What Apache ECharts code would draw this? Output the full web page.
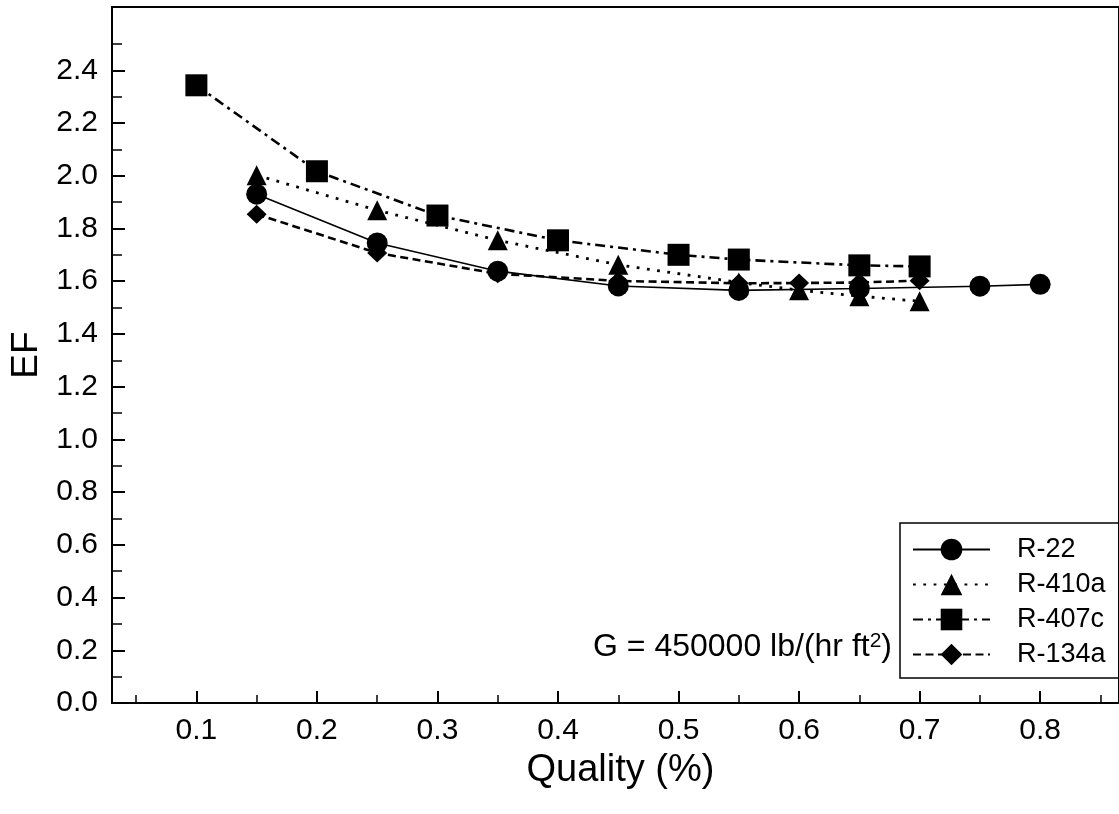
<!DOCTYPE html>
<html>
<head>
<meta charset="utf-8">
<script src="https://cdn.jsdelivr.net/npm/echarts@6/dist/echarts.min.js"></script>
<style>
html,body{margin:0;padding:0;background:#fff;}
#chart{width:1119px;height:814px;}
</style>
</head>
<body>
<div id="chart"></div>
<script>
// ---- data ----
const seriesNames = ['R-22', 'R-410a', 'R-407c', 'R-134a'];
const r22X = [0.15, 0.25, 0.35, 0.45, 0.55, 0.65, 0.75, 0.80];
const r22Y = [1.930, 1.745, 1.638, 1.582, 1.565, 1.572, 1.581, 1.588];
const r410aX = [0.15, 0.25, 0.35, 0.45, 0.55, 0.60, 0.65, 0.70];
const r410aY = [2.002, 1.869, 1.755, 1.662, 1.595, 1.566, 1.543, 1.524];
const r407cX = [0.10, 0.20, 0.30, 0.40, 0.50, 0.55, 0.65, 0.70];
const r407cY = [2.343, 2.017, 1.849, 1.755, 1.700, 1.682, 1.660, 1.656];
const r134aX = [0.15, 0.25, 0.35, 0.45, 0.55, 0.60, 0.65, 0.70];
const r134aY = [1.854, 1.707, 1.628, 1.601, 1.592, 1.593, 1.595, 1.602];
const xMajorTicks = [0.1, 0.2, 0.3, 0.4, 0.5, 0.6, 0.7, 0.8];
const xMinorTicks = [0.05, 0.15, 0.25, 0.35, 0.45, 0.55, 0.65, 0.75, 0.85];
const yMajorTicks = [0.0, 0.2, 0.4, 0.6, 0.8, 1.0, 1.2, 1.4, 1.6, 1.8, 2.0, 2.2, 2.4];
const yMinorTicks = [0.1, 0.3, 0.5, 0.7, 0.9, 1.1, 1.3, 1.5, 1.7, 1.9, 2.1, 2.3, 2.5];
const annotation = 'G = 450000 lb/(hr ft';
const xTitle = 'Quality (%)';
const yTitle = 'EF';

const pairs = (xs, ys) => xs.map((x, i) => [x, ys[i]]);
const FONT = 'Liberation Sans, Arial, sans-serif';
const X_MIN = 0.03, X_MAX = 0.8654, Y_MIN = 0, Y_MAX = 2.64;

const chart = echarts.init(document.getElementById('chart'), null, {renderer: 'canvas'});

const baseX = {type: 'value', min: X_MIN, max: X_MAX, position: 'bottom', splitLine: {show: false}};
const baseY = {type: 'value', min: Y_MIN, max: Y_MAX, position: 'left', splitLine: {show: false}};

const option = {
  animation: false,
  backgroundColor: '#fff',
  textStyle: {fontFamily: FONT},
  grid: {left: 112, top: 7, right: -3, bottom: 111, show: true, borderColor: '#000', borderWidth: 2, backgroundColor: 'transparent'},
  xAxis: [
    Object.assign({}, baseX, {
      axisLine: {lineStyle: {color: '#000', width: 2}},
      axisTick: {inside: true, length: 12, lineStyle: {color: '#000', width: 2}, customValues: xMajorTicks},
      axisLabel: {customValues: xMajorTicks, formatter: v => v.toFixed(1), fontSize: 30, color: '#000', margin: 13, fontFamily: FONT},
      name: xTitle, nameLocation: 'middle', nameGap: 49,
      nameTextStyle: {fontSize: 38, color: '#000', fontFamily: FONT, padding: [0, 0, 0, 10]}
    }),
    Object.assign({}, baseX, {
      axisLine: {show: false},
      axisTick: {inside: true, length: 8, lineStyle: {color: '#000', width: 1.5}, customValues: xMinorTicks},
      axisLabel: {show: false}
    })
  ],
  yAxis: [
    Object.assign({}, baseY, {
      axisLine: {show: true, lineStyle: {color: '#000', width: 2}},
      axisTick: {show: true, inside: true, length: 13, lineStyle: {color: '#000', width: 2}, customValues: yMajorTicks},
      axisLabel: {customValues: yMajorTicks, formatter: v => v.toFixed(1), fontSize: 30, color: '#000', margin: 14, fontFamily: FONT},
      name: yTitle, nameLocation: 'middle', nameGap: 66, nameRotate: 90,
      nameTextStyle: {fontSize: 37, color: '#000', fontFamily: FONT}
    }),
    Object.assign({}, baseY, {
      axisLine: {show: false},
      axisTick: {show: true, inside: true, length: 10, lineStyle: {color: '#000', width: 1.5}, customValues: yMinorTicks},
      axisLabel: {show: false}
    })
  ],
  legend: {
    orient: 'vertical', left: 900, top: 523,
    itemWidth: 77, itemHeight: 27, itemGap: 8,
    padding: [13, 40, 10, 12],
    borderColor: '#000', borderWidth: 1.5,
    textStyle: {fontSize: 27, color: '#000', fontFamily: FONT, padding: [0, 0, 0, 22]},
    data: seriesNames
  },
  graphic: [{
    type: 'text',
    style: {
      text: '{a|' + annotation + '}{s|2}{a|)}',
      rich: {
        a: {fontSize: 32, fontFamily: FONT, fill: '#000', color: '#000'},
        s: {fontSize: 21, fontFamily: FONT, fill: '#000', color: '#000', verticalAlign: 'top', lineHeight: 21, padding: [0, 0, 12, 0]}
      },
      x: 892, y: 663, align: 'right', verticalAlign: 'bottom'
    }
  }],
  series: [
    {
      name: seriesNames[0], type: 'line', data: pairs(r22X, r22Y),
      symbol: 'circle', symbolSize: 21,
      lineStyle: {color: '#000', width: 1.6, type: 'solid'},
      itemStyle: {color: '#000'}
    },
    {
      name: seriesNames[1], type: 'line', data: pairs(r410aX, r410aY),
      symbol: 'triangle', symbolSize: 20,
      lineStyle: {color: '#000', width: 2.8, type: [2.8, 7.5]},
      itemStyle: {color: '#000'}
    },
    {
      name: seriesNames[2], type: 'line', data: pairs(r407cX, r407cY),
      symbol: 'rect', symbolSize: 22,
      lineStyle: {color: '#000', width: 2.6, type: [10, 5, 3, 5]},
      itemStyle: {color: '#000'}
    },
    {
      name: seriesNames[3], type: 'line', data: pairs(r134aX, r134aY),
      symbol: 'diamond', symbolSize: [20, 19],
      lineStyle: {color: '#000', width: 2.6, type: [8, 4.5]},
      itemStyle: {color: '#000'}
    }
  ]
};
chart.setOption(option);
</script>
</body>
</html>
